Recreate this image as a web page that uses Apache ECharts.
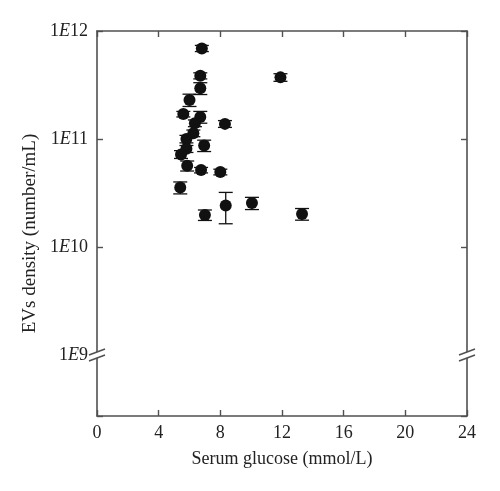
<!DOCTYPE html>
<html>
<head>
<meta charset="utf-8">
<script src="https://cdn.jsdelivr.net/npm/echarts@6/dist/echarts.min.js"></script>
<style>
  html, body { margin: 0; padding: 0; background: #fff; }
  #main { width: 500px; height: 491px; }
</style>
</head>
<body>
<div id="main"></div>
<script>
// values
const glucose = [6.8, 6.7, 11.9, 6.7, 6.0, 5.6, 6.7, 8.3, 6.35, 6.25, 5.8,
  6.95, 5.8, 5.45, 5.85, 6.75, 8.0, 5.4, 8.35, 10.05, 7.0, 13.3]
const density = [6.9e11, 3.85e11, 3.72e11, 2.95e11, 2.3e11, 1.7e11, 1.6e11, 1.38e11, 1.4e11, 1.13e11, 1.0e11,
  8.7e10, 8.1e10, 7.2e10, 5.65e10, 5.15e10, 4.95e10, 3.55e10, 2.42e10, 2.55e10, 1.98e10, 2.02e10]
const densityErr = [0.45e11, 0.25e11, 0.3e11, 0.37e11, 0.3e11, 0.1e11, 0.2e11, 0.1e11, 0.1e11, 0.08e11, 0.08e11,
  1.05e10, 0.6e10, 0.6e10, 0.6e10, 0.3e10, 0.3e10, 0.45e10, 0.78e10, 0.33e10, 0.22e10, 0.25e10]

const xTicks = [0, 4, 8, 12, 16, 20, 24]
const yTicks = [1e9, 1e10, 1e11, 1e12]
const yBottom = 2.72e8   // end of the broken part below 1E9
const yBreakAt = 1e9

const font = 'Liberation Serif'
const axisColor = '#505050'

const points = glucose.map((x, i) => [x, density[i]])
const bars = glucose.map((x, i) => [x, density[i] - densityErr[i], density[i] + densityErr[i]])

const myChart = echarts.init(document.getElementById('main'))

const axisLine = { onZero: false, lineStyle: { color: axisColor, width: 1.6 } }
const axisTick = { inside: true, length: 6, lineStyle: { color: axisColor, width: 1.4 } }

function yLabel(v) {
  const e = Math.round(Math.log10(v))
  if (!yTicks.some(t => Math.abs(Math.log10(t) - Math.log10(v)) < 1e-6)) return ''
  return '1{e|E}' + e
}

const option = {
  animation: false,
  grid: { left: 97, right: 33, top: 31, bottom: 75, containLabel: false, outerBoundsMode: 'none' },
  xAxis: [{
    type: 'value',
    min: xTicks[0],
    max: xTicks[xTicks.length - 1],
    interval: 4,
    name: 'Serum glucose (mmol/L)',
    nameLocation: 'middle',
    nameGap: 34,
    nameTextStyle: { fontFamily: font, fontSize: 18, color: '#222' },
    axisLine: axisLine,
    axisTick: axisTick,
    axisLabel: { fontFamily: font, fontSize: 18, color: '#222', margin: 8 },
    splitLine: { show: false }
  }, {
    type: 'value',
    position: 'top',
    min: xTicks[0],
    max: xTicks[xTicks.length - 1],
    interval: 4,
    axisLine: axisLine,
    axisTick: axisTick,
    axisLabel: { show: false },
    splitLine: { show: false }
  }],
  yAxis: [{
    type: 'log',
    logBase: 10,
    min: yBottom,
    max: yTicks[yTicks.length - 1],
    name: 'EVs density (number/mL)',
    nameLocation: 'middle',
    nameGap: 43,
    nameTextStyle: { fontFamily: font, fontSize: 19, color: '#222', padding: [0, 20, 0, 0] },
    axisLine: axisLine,
    axisTick: axisTick,
    minorTick: { show: false },
    axisLabel: {
      fontFamily: font, fontSize: 18, color: '#222', margin: 9,
      formatter: yLabel,
      rich: { e: { fontFamily: font, fontSize: 18, fontStyle: 'italic', color: '#222' } }
    },
    splitLine: { show: false }
  }, {
    type: 'log',
    logBase: 10,
    position: 'right',
    min: yBottom,
    max: yTicks[yTicks.length - 1],
    axisLine: axisLine,
    axisTick: axisTick,
    axisLabel: { show: false },
    splitLine: { show: false }
  }],
  series: [{
    type: 'custom',
    xAxisIndex: 0,
    yAxisIndex: 0,
    data: bars,
    z: 2,
    renderItem: function (params, api) {
      const lo = api.coord([api.value(0), api.value(1)])
      const hi = api.coord([api.value(0), api.value(2)])
      const w = 7
      const style = { stroke: '#111', lineWidth: 1.3 }
      return {
        type: 'group',
        children: [
          { type: 'line', shape: { x1: lo[0], y1: lo[1], x2: hi[0], y2: hi[1] }, style: style },
          { type: 'line', shape: { x1: lo[0] - w, y1: lo[1], x2: lo[0] + w, y2: lo[1] }, style: style },
          { type: 'line', shape: { x1: hi[0] - w, y1: hi[1], x2: hi[0] + w, y2: hi[1] }, style: style }
        ]
      }
    }
  }, {
    type: 'scatter',
    xAxisIndex: 0,
    yAxisIndex: 0,
    data: points,
    symbol: 'circle',
    symbolSize: 12,
    itemStyle: { color: '#111', opacity: 1 },
    z: 3
  }]
}
myChart.setOption(option)

// axis break marks at 1E9, on both vertical axes
function breakMark(c) {
  const cx = c[0], cy = c[1]
  const hw = 8, rise = 3, gap = 3
  const up = [[cx - hw, cy - gap + rise], [cx + hw, cy - gap - rise]]
  const dn = [[cx - hw, cy + gap + rise], [cx + hw, cy + gap - rise]]
  const ls = { stroke: axisColor, lineWidth: 1.5 }
  return [
    { type: 'polygon', shape: { points: [up[0], up[1], dn[1], dn[0]] }, style: { fill: '#fff' }, z: 100 },
    { type: 'line', shape: { x1: up[0][0], y1: up[0][1], x2: up[1][0], y2: up[1][1] }, style: ls, z: 101 },
    { type: 'line', shape: { x1: dn[0][0], y1: dn[0][1], x2: dn[1][0], y2: dn[1][1] }, style: ls, z: 101 }
  ]
}
const leftBreak = myChart.convertToPixel({ xAxisIndex: 0, yAxisIndex: 0 }, [xTicks[0], yBreakAt])
const rightBreak = myChart.convertToPixel({ xAxisIndex: 0, yAxisIndex: 0 }, [xTicks[xTicks.length - 1], yBreakAt])
myChart.setOption({ graphic: breakMark(leftBreak).concat(breakMark(rightBreak)) })
</script>
</body>
</html>
